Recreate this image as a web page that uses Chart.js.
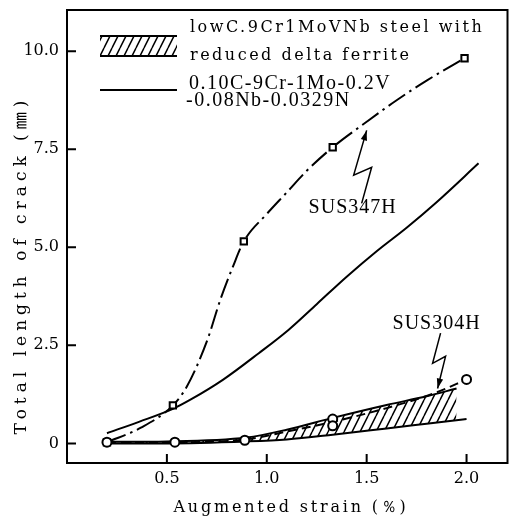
<!DOCTYPE html>
<html>
<head>
<meta charset="utf-8">
<script src="https://cdn.jsdelivr.net/npm/chart.js@4.4.1/dist/chart.umd.min.js"></script>
<style>
html,body{margin:0;padding:0;background:#fff;}
#wrap{width:514px;height:521px;position:relative;}
</style>
</head>
<body>
<div id="wrap"><canvas id="c"></canvas></div>
<script>
// ---- data ----
const xTickValues = [0.5, 1.0, 1.5, 2.0];
const xTickLabels = ["0.5", "1.0", "1.5", "2.0"];
const yTickValues = [0, 2.5, 5.0, 7.5, 10.0];
const yTickLabels = ["0", "2.5", "5.0", "7.5", "10.0"];

// SUS347H (squares) and its dash-dot curve
const sus347hX = [0.2, 0.53, 0.885, 1.33, 1.99];
const sus347hY = [0.03, 0.97, 5.15, 7.55, 9.82];
const sus347hCurveX = [0.2, 0.37, 0.53, 0.6, 0.7, 0.77, 0.83, 0.885, 1.0, 1.1, 1.2, 1.33, 1.5, 1.65, 1.8, 1.99];
const sus347hCurveY = [0.03, 0.4, 0.97, 1.45, 2.6, 3.7, 4.5, 5.15, 5.85, 6.4, 6.95, 7.55, 8.2, 8.75, 9.25, 9.82];

// SUS304H (circles) and its dashed curve
const sus304hX = [0.2, 0.54, 0.89, 1.33, 1.33, 2.0];
const sus304hY = [0.03, 0.03, 0.08, 0.62, 0.45, 1.63];
const sus304hCurveX = [0.2, 0.54, 0.89, 1.1, 1.33, 1.6, 1.85, 2.0];
const sus304hCurveY = [0.03, 0.03, 0.1, 0.3, 0.55, 0.9, 1.3, 1.63];

// 0.10C-9Cr-1Mo-0.2V-0.08Nb-0.0329N (solid curve)
const solidX = [0.2, 0.36, 0.53, 0.62, 0.78, 0.96, 1.11, 1.25, 1.4, 1.55, 1.7, 1.85, 2.06];
const solidY = [0.26, 0.55, 0.88, 1.12, 1.62, 2.3, 2.9, 3.55, 4.25, 4.9, 5.5, 6.15, 7.14];

// lowC.9Cr1MoVNb steel with reduced delta ferrite (hatched band)
const bandLowX = [0.2, 0.5, 0.9, 1.1, 1.33, 1.6, 1.8, 2.0];
const bandLowY = [0.0, 0.0, 0.05, 0.1, 0.22, 0.38, 0.5, 0.62];
const bandHighX = [0.2, 0.5, 0.9, 1.1, 1.33, 1.6, 1.8, 1.95];
const bandHighY = [0.04, 0.05, 0.15, 0.35, 0.65, 0.98, 1.2, 1.4];

const legendLabels = ["lowC.9Cr1MoVNb steel with", "reduced delta ferrite", "0.10C-9Cr-1Mo-0.2V", "-0.08Nb-0.0329N"];
const xTitle = "Augmented strain (％)";
const yTitle = "Total length of crack (㎜)";

// annotation arrows (data coordinates)
const ann347Text = "SUS347H";
const ann347Pos = [1.43, 6.0];
const ann347Path = [[1.475, 6.12], [1.525, 7.04], [1.435, 6.84], [1.5, 7.98]];
const ann304Text = "SUS304H";
const ann304Pos = [1.85, 3.05];
const ann304Path = [[1.87, 2.81], [1.83, 2.04], [1.895, 2.22], [1.855, 1.40]];

const pts = (xs, ys) => xs.map((x, i) => ({x: x, y: ys[i]}));

function hatchPattern(ctx) {
  const c = document.createElement('canvas');
  c.width = 8; c.height = 16;
  const g = c.getContext('2d');
  g.strokeStyle = '#000';
  g.lineWidth = 1.5;
  g.beginPath();
  g.moveTo(0, 16); g.lineTo(8, 0);
  g.moveTo(-8, 16); g.lineTo(0, 0);
  g.moveTo(8, 16); g.lineTo(16, 0);
  g.stroke();
  return ctx.createPattern(c, 'repeat');
}

const canvas = document.getElementById('c');
const ctx0 = canvas.getContext('2d');
const pattern = hatchPattern(ctx0);

const SERIF = "'Liberation Serif', 'DejaVu Serif', serif";

const decor = {
  id: 'decor',
  afterDatasetsDraw(chart) {
    const {ctx, chartArea: a, scales} = chart;
    const xs = scales.x, ys = scales.y;
    ctx.save();
    // frame
    ctx.strokeStyle = '#000';
    ctx.lineWidth = 2;
    ctx.strokeRect(a.left, a.top, a.right - a.left, a.bottom - a.top);
    // inward ticks
    ctx.beginPath();
    xTickValues.forEach(v => {
      const px = xs.getPixelForValue(v);
      ctx.moveTo(px, a.bottom); ctx.lineTo(px, a.bottom - 9);
    });
    yTickValues.forEach(v => {
      const py = ys.getPixelForValue(v);
      ctx.moveTo(a.left, py); ctx.lineTo(a.left + 9, py);
    });
    ctx.stroke();

    // axis titles
    ctx.fillStyle = '#000';
    ctx.textAlign = 'center';
    ctx.textBaseline = 'middle';
    ctx.font = "16px 'DejaVu Serif', serif";
    ctx.letterSpacing = '2.8px';
    ctx.fillText(xTitle, 291, 508);
    ctx.save();
    ctx.translate(22, 265);
    ctx.rotate(-Math.PI / 2);
    ctx.font = "17px 'DejaVu Serif', 'Noto Sans CJK JP', serif";
    ctx.letterSpacing = '5px';
    ctx.fillText(yTitle, 0, 0);
    ctx.restore();

    // legend
    ctx.textAlign = 'left';
    ctx.font = "16px 'DejaVu Serif', serif";
    ctx.letterSpacing = '2.5px';
    ctx.fillText(legendLabels[0], 190, 28);
    ctx.fillText(legendLabels[1], 190, 56);
    ctx.font = "20px " + SERIF;
    ctx.letterSpacing = '1.5px';
    ctx.fillText(legendLabels[2], 189, 84);
    ctx.fillText(legendLabels[3], 186, 101);
    ctx.letterSpacing = '0px';
    // hatch symbol
    ctx.fillStyle = pattern;
    ctx.fillRect(100, 36, 77, 20);
    ctx.lineWidth = 2;
    ctx.beginPath();
    ctx.moveTo(100, 36); ctx.lineTo(177, 36);
    ctx.moveTo(100, 56); ctx.lineTo(177, 56);
    ctx.moveTo(100, 90); ctx.lineTo(177, 90);
    ctx.stroke();

    // annotations
    ctx.fillStyle = '#000';
    ctx.textAlign = 'center';
    ctx.font = "20px " + SERIF;
    ctx.letterSpacing = '1px';
    ctx.fillText(ann347Text, xs.getPixelForValue(ann347Pos[0]), ys.getPixelForValue(ann347Pos[1]));
    ctx.fillText(ann304Text, xs.getPixelForValue(ann304Pos[0]), ys.getPixelForValue(ann304Pos[1]));
    ctx.letterSpacing = '0px';
    [ann347Path, ann304Path].forEach(p => {
      const P = p.map(q => [xs.getPixelForValue(q[0]), ys.getPixelForValue(q[1])]);
      ctx.lineWidth = 1.5;
      ctx.beginPath();
      ctx.moveTo(P[0][0], P[0][1]);
      for (let i = 1; i < P.length; i++) ctx.lineTo(P[i][0], P[i][1]);
      ctx.stroke();
      const [x1, y1] = P[P.length - 2], [x2, y2] = P[P.length - 1];
      const ang = Math.atan2(y2 - y1, x2 - x1);
      const L = 10, W = 3.2;
      ctx.beginPath();
      ctx.moveTo(x2, y2);
      ctx.lineTo(x2 - L * Math.cos(ang) + W * Math.sin(ang), y2 - L * Math.sin(ang) - W * Math.cos(ang));
      ctx.lineTo(x2 - L * Math.cos(ang) - W * Math.sin(ang), y2 - L * Math.sin(ang) + W * Math.cos(ang));
      ctx.closePath();
      ctx.fill();
    });
    ctx.restore();
  }
};

new Chart(canvas, {
  type: 'line',
  data: {
    datasets: [
      { label: 'band low', data: pts(bandLowX, bandLowY), borderColor: '#000', borderWidth: 2,
        pointRadius: 0, fill: false, cubicInterpolationMode: 'monotone', order: 5 },
      { label: 'band high', data: pts(bandHighX, bandHighY), borderColor: '#000', borderWidth: 2,
        pointRadius: 0, fill: '-1', backgroundColor: pattern, cubicInterpolationMode: 'monotone', order: 5 },
      { label: 'solid', data: pts(solidX, solidY), borderColor: '#000', borderWidth: 2,
        pointRadius: 0, fill: false, cubicInterpolationMode: 'monotone', order: 4 },
      { label: 'SUS347H curve', data: pts(sus347hCurveX, sus347hCurveY), borderColor: '#000', borderWidth: 2,
        borderDash: [20, 5, 2.5, 5], pointRadius: 0, fill: false, cubicInterpolationMode: 'monotone', order: 3 },
      { label: 'SUS304H curve', data: pts(sus304hCurveX, sus304hCurveY), borderColor: '#000', borderWidth: 2,
        borderDash: [9, 5], pointRadius: 0, fill: false, cubicInterpolationMode: 'monotone', order: 3 },
      { label: 'SUS347H', data: pts(sus347hX, sus347hY), showLine: false, pointStyle: 'rect',
        pointRadius: 4.5, pointBorderWidth: 2, pointBorderColor: '#000', pointBackgroundColor: '#fff', order: 1 },
      { label: 'SUS304H', data: pts(sus304hX, sus304hY), showLine: false, pointStyle: 'circle',
        pointRadius: 4.5, pointBorderWidth: 2, pointBorderColor: '#000', pointBackgroundColor: '#fff', order: 0 }
    ]
  },
  options: {
    responsive: true,
    maintainAspectRatio: false,
    animation: false,
    layout: { padding: { top: 10, right: 6, left: 0, bottom: 0 } },
    plugins: { legend: { display: false }, tooltip: { enabled: false } },
    scales: {
      x: {
        type: 'linear', min: 0, max: 2.205,
        grid: { display: false, drawTicks: false },
        border: { display: false },
        afterBuildTicks: s => { s.ticks = xTickValues.map(v => ({value: v})); },
        afterFit: s => { s.height = 58; s.paddingLeft = 0; s.paddingRight = 0; },
        ticks: {
          color: '#000', padding: 6,
          font: { family: "'DejaVu Serif', serif", size: 16 },
          callback: (v) => { const i = xTickValues.indexOf(v); return i >= 0 ? xTickLabels[i] : ''; }
        }
      },
      y: {
        type: 'linear', min: -0.5, max: 11.05,
        grid: { display: false, drawTicks: false },
        border: { display: false },
        afterBuildTicks: s => { s.ticks = yTickValues.map(v => ({value: v})); },
        afterFit: s => { s.width = 67; s.paddingTop = 0; s.paddingBottom = 0; },
        ticks: {
          color: '#000', padding: 8,
          font: { family: "'DejaVu Serif', serif", size: 16 },
          callback: (v) => { const i = yTickValues.indexOf(v); return i >= 0 ? yTickLabels[i] : ''; }
        }
      }
    }
  },
  plugins: [decor]
});
</script>
</body>
</html>
